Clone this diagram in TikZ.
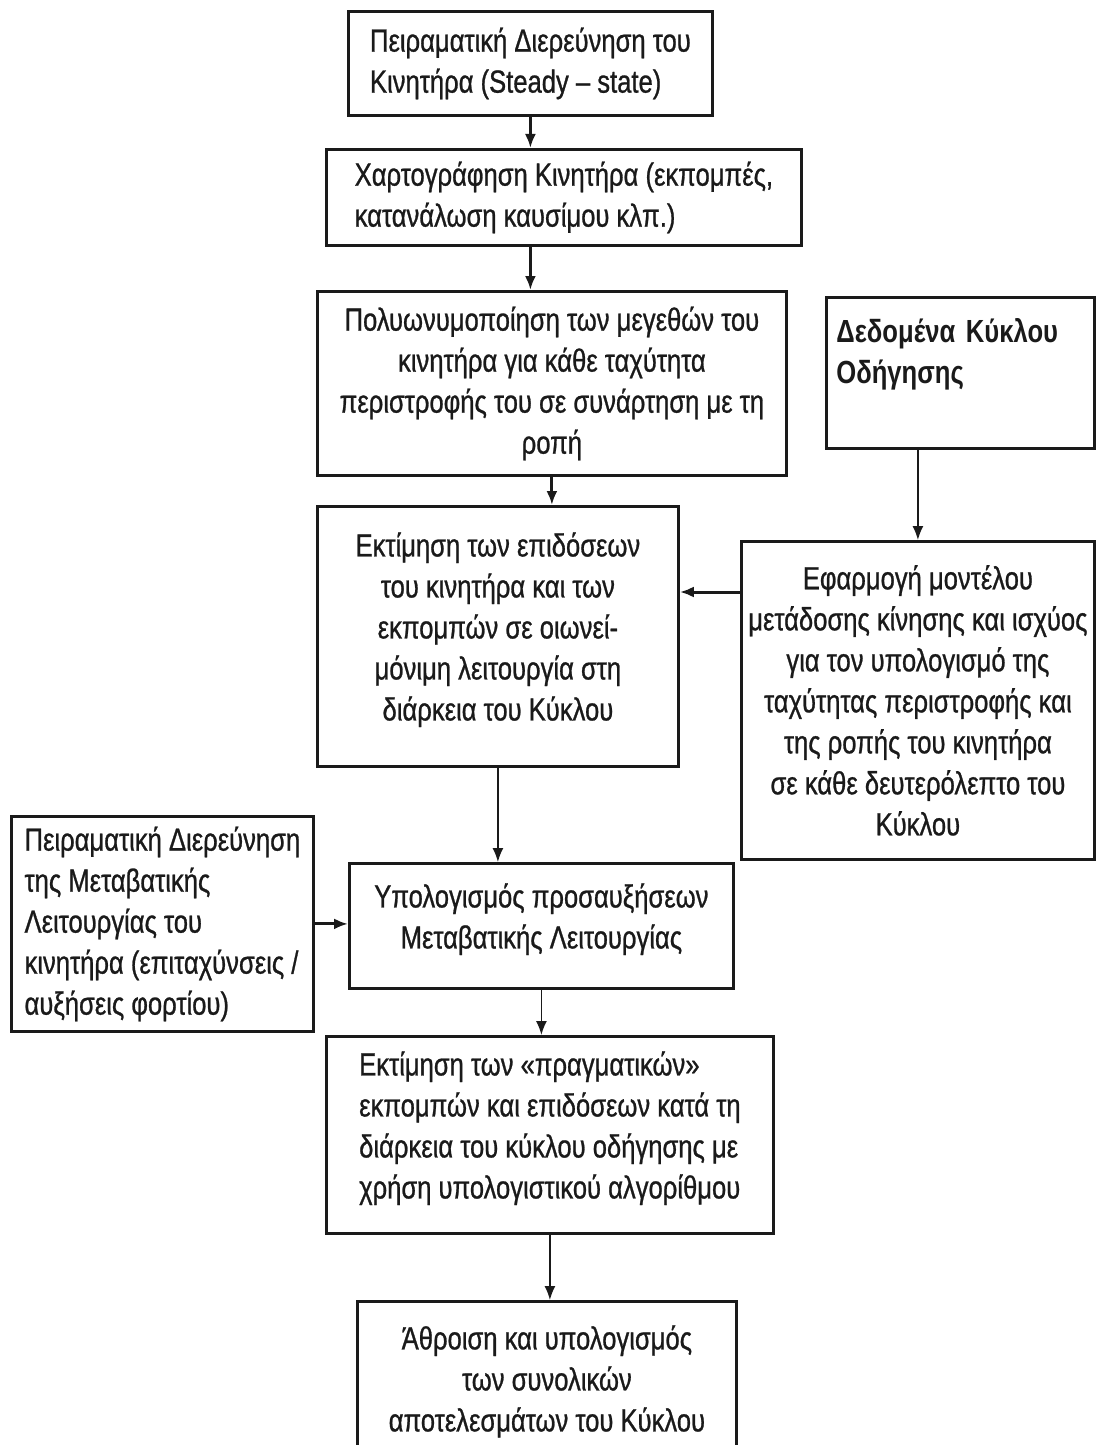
\documentclass[tikz,border=0pt]{standalone}
\usepackage{fontspec}
\setmainfont{Liberation Sans}[FakeStretch=0.8,UprightFeatures={FakeBold=0.8}]
\usepackage{xcolor}
\usepackage{tikz}
\usetikzlibrary{arrows.meta,positioning,calc}
\definecolor{ink}{HTML}{1A1A1A}

\begin{document}
\begin{tikzpicture}[x=0.5pt,y=-0.5pt,
  box/.style={draw=ink,line width=1.4pt,inner sep=0pt,anchor=north west,
              align=center,text=ink,font=\fontsize{16}{20.5}\selectfont},
  arrow/.style={-{Latex[length=7pt,width=5.5pt]},line width=0.8pt,draw=ink},
  heavy/.style={arrow,line width=1.5pt}]
  \fill[white] (0,0) rectangle (1100,1445);
  \useasboundingbox (0,0) rectangle (1100,1445);
  \node[box,align=left,minimum width=182pt,minimum height=52pt] (steady) at (347,10)
    {Πειραματική Διερεύνηση του\\Κινητήρα (Steady – state)};
  \node[box,align=left,minimum width=237.5pt,minimum height=48pt] (mapping) at (325,148)
    {Χαρτογράφηση Κινητήρα (εκπομπές,\\κατανάλωση καυσίμου κλπ.)};
  \node[box,minimum width=234.5pt,minimum height=92pt] (poly) at (316,290)
    {Πολυωνυμοποίηση των μεγεθών του\\κινητήρα για κάθε ταχύτητα\\περιστροφής του σε συνάρτηση με τη\\ροπή};
  \node[box,align=left,text width=124pt,inner xsep=5pt,minimum height=75.5pt,
        font=\bfseries\fontsize{16}{20.5}\selectfont] (cycle) at (825,296)
    {Δεδομένα Κύκλου\\Οδήγησης\rule[-22pt]{0pt}{0pt}};
  \node[box,minimum width=180.5pt,minimum height=130pt] (quasi) at (316,505)
    {Εκτίμηση των επιδόσεων\\του κινητήρα και των\\εκπομπών σε οιωνεί-\\μόνιμη λειτουργία στη\\διάρκεια του Κύκλου\rule[-10pt]{0pt}{0pt}};
  \node[box,minimum width=176.5pt,minimum height=159pt] (model) at (740,540)
    {Εφαρμογή μοντέλου\\μετάδοσης κίνησης και ισχύος\\για τον υπολογισμό της\\ταχύτητας περιστροφής και\\της ροπής του κινητήρα\\σε κάθε δευτερόλεπτο του\\Κύκλου};
  \node[box,align=left,minimum width=151pt,minimum height=107.5pt] (transient) at (10,815)
    {Πειραματική Διερεύνηση\\της Μεταβατικής\\Λειτουργίας του\\κινητήρα (επιταχύνσεις /\\αυξήσεις φορτίου)};
  \node[box,minimum width=192pt,minimum height=62.5pt] (increments) at (348,862)
    {Υπολογισμός προσαυξήσεων\\Μεταβατικής Λειτουργίας\rule[-10pt]{0pt}{0pt}};
  \node[box,align=left,minimum width=223.5pt,minimum height=98.5pt] (real) at (325,1035)
    {Εκτίμηση των «πραγματικών»\\εκπομπών και επιδόσεων κατά τη\\διάρκεια του κύκλου οδήγησης με\\χρήση υπολογιστικού αλγορίθμου\rule[-10pt]{0pt}{0pt}};
  \node[box,minimum width=189.5pt,minimum height=80pt] (total) at (356,1300)
    {Άθροιση και υπολογισμός\\των συνολικών\\αποτελεσμάτων του Κύκλου};
  \coordinate (feed) at ([yshift=-26pt]model.north west);
  \draw[heavy] (steady.south) -- (steady.south |- mapping.north);
  \draw[heavy] (mapping.south -| steady.south) -- (steady.south |- poly.north);
  \draw[heavy] (poly.south) -- (poly.south |- quasi.north);
  \draw[arrow] (cycle.south -| model.north) -- (model.north);
  \draw[heavy] (feed) -- (feed -| quasi.east);
  \draw[arrow] (quasi.south) -- (quasi.south |- increments.north);
  \draw[heavy] (transient.east) -- (transient.east -| increments.west);
  \draw[arrow] (increments.south) -- (increments.south |- real.north);
  \draw[arrow] (real.south) -- (real.south |- total.north);
\end{tikzpicture}
\end{document}
